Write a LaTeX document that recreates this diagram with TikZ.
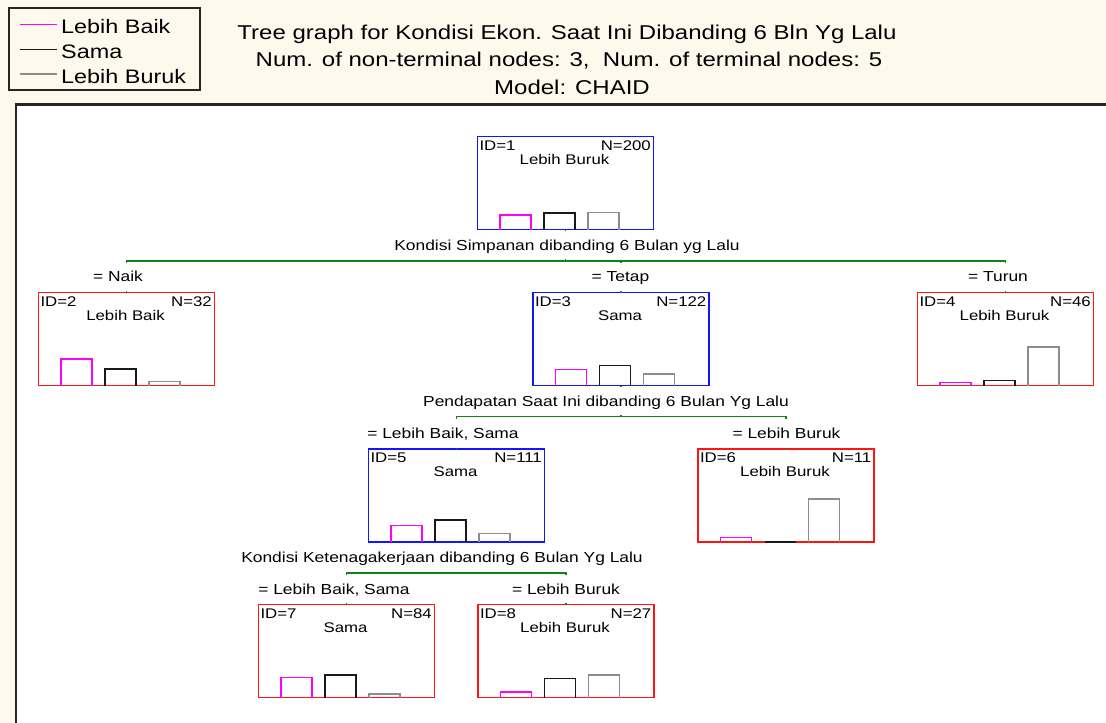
\documentclass[tikz,border=0pt]{standalone}
\usepackage{fontspec}
\setmainfont{Liberation Sans}[FakeStretch=1.2]
\usetikzlibrary{calc}
\definecolor{cream}{RGB}{255,249,237}
\definecolor{tblue}{RGB}{20,20,255}
\definecolor{tred}{RGB}{255,20,20}
\definecolor{tgreen}{RGB}{20,130,20}
\definecolor{tpink}{RGB}{255,0,255}
\definecolor{tblack}{RGB}{25,25,25}
\definecolor{tgray}{RGB}{140,140,140}
\tikzset{
  tnode/.style={draw, line width=1.8, outer sep=0, minimum width=176, minimum height=93, inner sep=0, anchor=north west},
  idt/.style={anchor=base west, inner sep=0, font=\fontsize{14}{16}\selectfont},
  nt/.style={anchor=base east, inner sep=0, font=\fontsize{14}{16}\selectfont},
  clt/.style={anchor=base, inner sep=0, font=\fontsize{14}{16}\selectfont},
  bar/.style={line width=1.7},
  conn/.style={draw=tgreen, line width=1.3},
  lab/.style={fill=white, inner sep=0, outer sep=0, inner xsep=1, text height=10, text depth=0, minimum height=28.4, font=\fontsize{14.5}{16}\selectfont},
  ttl/.style={anchor=base, inner sep=0, font=\fontsize{20}{24}\selectfont},
  legt/.style={anchor=base west, inner sep=0, font=\fontsize{19.5}{22}\selectfont},
  legl/.style={line width=1.4}
}
\newcommand\mktreenode[7]{%
  \node[tnode, draw=#2] (#1) at (#3,#4) {};
  \node[idt] (#1id) at ($(#1.north west)+(1.8,13.5)$) {ID=#5};
  \node[nt] (#1n) at ($(#1.north east)+(-2.5,13.5)$) {N=#6};
  \node[clt] (#1c) at ($(#1.north)+(-1,27.5)$) {#7};}
\newcommand\mkbars[4]{%
  \draw[bar,tpink] ($(#1.south west)+(22.5,0)$) -- ++(0,-#2) -- ++(31,0) -- ++(0,#2);
  \draw[bar,tblack] ($(#1.south west)+(66.5,0)$) -- ++(0,-#3) -- ++(31,0) -- ++(0,#3);
  \draw[bar,tgray] ($(#1.south west)+(110.5,0)$) -- ++(0,-#4) -- ++(31,0) -- ++(0,#4);}
\begin{document}
\begin{tikzpicture}[x=1pt,y=-1pt]
\useasboundingbox (0,0) rectangle (1106,723);
\fill[cream] (0,0) rectangle (1106,723);
\fill[white] (16,104.5) rectangle (1106,723);
\draw[line width=2.2, black!85] (16,723) -- (16,104.5) -- (1106,104.5);
% legend
\draw[line width=1.3, black!85] (9,8) rectangle (200,90);
\draw[legl,tpink] (20,24.5) -- (57,24.5);
\draw[legl,tblack] (20,49.3) -- (57,49.3);
\draw[legl,tgray] (20,74) -- (57,74);
\node[legt] (lg1) at (61,33.3) {Lebih Baik};
\node[legt] (lg2) at (61,58.3) {Sama};
\node[legt] (lg3) at (61,83) {Lebih Buruk};
% title
\node[ttl] (t1) at (567,39) {Tree graph for Kondisi Ekon. Saat Ini Dibanding 6 Bln Yg Lalu};
\node[ttl] (t2) at (569,66.5) {Num. of non-terminal nodes: 3,\ \ Num. of terminal nodes: 5};
\node[ttl] (t3) at (572,94) {Model: CHAID};
% tree nodes
\mktreenode{n1}{tblue}{477.5}{136.5}{1}{200}{Lebih Buruk}
\mktreenode{n2}{tred}{38.5}{292.5}{2}{32}{Lebih Baik}
\mktreenode{n3}{tblue}{533}{292.5}{3}{122}{Sama}
\mktreenode{n4}{tred}{917.5}{292.5}{4}{46}{Lebih Buruk}
\mktreenode{n5}{tblue}{368.5}{449}{5}{111}{Sama}
\mktreenode{n6}{tred}{698}{449}{6}{11}{Lebih Buruk}
\mktreenode{n7}{tred}{258.5}{604.5}{7}{84}{Sama}
\mktreenode{n8}{tred}{478}{604.5}{8}{27}{Lebih Buruk}
\mkbars{n1}{14.3}{16.3}{17}
\mkbars{n2}{26.4}{16.4}{4}
\mkbars{n3}{16}{20}{11.7}
\mkbars{n4}{3}{5}{38.7}
\mkbars{n5}{16.4}{22}{8.4}
\mkbars{n6}{4.4}{0}{42.7}
\mkbars{n7}{20}{22.7}{3.7}
\mkbars{n8}{5.4}{19}{22.4}
% connectors
\coordinate (s1) at ($(n1.south)+(0,31.5)$);
\coordinate (s3) at ($(n3.south)+(0,31.2)$);
\coordinate (s5) at ($(n5.south)+(0,31)$);
\draw[conn] (n1.south) -- (s1) -| (n2.north);
\draw[conn] (s1) -| (n3.north);
\draw[conn] (s1) -| (n4.north);
\draw[conn] (n3.south) -- (s3) -| (n5.north);
\draw[conn] (s3) -| (n6.north);
\draw[conn] (n5.south) -- (s5) -| (n7.north);
\draw[conn] (s5) -| (n8.north);
% split labels
\node[lab] (sl1) at ($(n1.south)+(1.5,15.75)$) {Kondisi Simpanan dibanding 6 Bulan yg Lalu};
\node[lab] (sl3) at ($(n3.south)+(-15,15.6)$) {Pendapatan Saat Ini dibanding 6 Bulan Yg Lalu};
\node[lab] (sl5) at ($(n5.south)+(-14.5,15.5)$) {Kondisi Ketenagakerjaan dibanding 6 Bulan Yg Lalu};
% branch labels
\node[lab] (bl2) at ($(n2.north)+(-8.5,-15.75)$) {= Naik};
\node[lab] (bl3) at ($(n3.north)+(-0.5,-15.75)$) {= Tetap};
\node[lab] (bl4) at ($(n4.north)+(-7.5,-15.75)$) {= Turun};
\node[lab] (bl5) at ($(n5.north)+(-13.5,-15.6)$) {= Lebih Baik, Sama};
\node[lab] (bl6) at ($(n6.north)+(0.5,-15.6)$) {= Lebih Buruk};
\node[lab] (bl7) at ($(n7.north)+(-12.5,-15.5)$) {= Lebih Baik, Sama};
\node[lab] (bl8) at ($(n8.north)+(0,-15.5)$) {= Lebih Buruk};
\end{tikzpicture}
\end{document}
